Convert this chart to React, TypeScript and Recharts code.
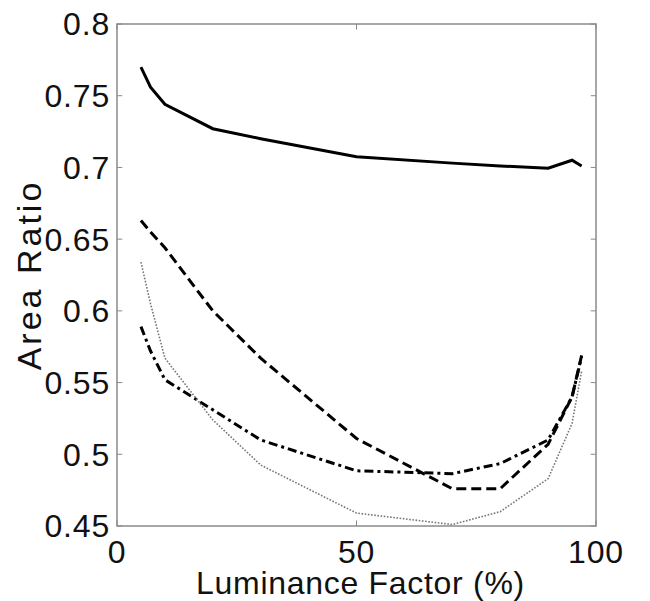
import React from 'react';
import { LineChart, Line, XAxis, YAxis, ReferenceArea, ReferenceLine } from 'recharts';

const luminance = [5, 7, 10, 20, 30, 50, 70, 80, 90, 95, 97];
const solidSeries = [0.77, 0.756, 0.744, 0.727, 0.72, 0.7075, 0.703, 0.701, 0.6995, 0.705, 0.701];
const dashedSeries = [0.663, 0.655, 0.644, 0.6, 0.567, 0.511, 0.476, 0.476, 0.507, 0.54, 0.569];
const dashDotSeries = [0.589, 0.572, 0.552, 0.531, 0.51, 0.4885, 0.4865, 0.4935, 0.51, 0.54, 0.568];
const dottedSeries = [0.634, 0.605, 0.567, 0.524, 0.4925, 0.459, 0.451, 0.46, 0.483, 0.5215, 0.558];

const xTicks = [0, 50, 100];
const yTicks = [0.45, 0.5, 0.55, 0.6, 0.65, 0.7, 0.75, 0.8];
const xDomain = [0, 100];
const yDomain = [0.45, 0.8];

const xLabel = 'Luminance Factor (%)';
const yLabel = 'Area Ratio';

const data = luminance.map((x, i) => ({
  x,
  solid: solidSeries[i],
  dashed: dashedSeries[i],
  dashDot: dashDotSeries[i],
  dotted: dottedSeries[i],
}));

const FONT = '"Liberation Sans", Arial, Helvetica, sans-serif';
const AXIS = '#8a8a8a';
const tickStyle = { fontSize: 32, fill: '#111', fontFamily: FONT, letterSpacing: 0.8 };
// inward tick length expressed in data units (fraction of each axis span)
const xTickLen = (xDomain[1] - xDomain[0]) * 0.011;
const yTickLen = (yDomain[1] - yDomain[0]) * 0.011;

export default function App() {
  return (
    <LineChart
      width={642}
      height={593}
      data={data}
      margin={{ top: 16, right: 54, bottom: 0, left: 0 }}
    >
      <XAxis
        dataKey="x"
        type="number"
        domain={xDomain}
        ticks={xTicks}
        height={75}
        axisLine={false}
        tickLine={false}
        tickMargin={8}
        tick={tickStyle}
        interval={0}
        label={{
          content: (props: any) => {
            const vb = props.viewBox;
            return (
              <text
                x={vb.x + vb.width / 2 + 4}
                y={vb.y + 68}
                textAnchor="middle"
                fontSize={32}
                letterSpacing={0.7}
                fontFamily={FONT}
                fill="#111"
              >
                {xLabel}
              </text>
            );
          },
        }}
      />
      <YAxis
        type="number"
        domain={yDomain}
        ticks={yTicks}
        width={109}
        axisLine={false}
        tickLine={false}
        tickMargin={1}
        tick={tickStyle}
        interval={0}
        allowDataOverflow
        label={{
          content: (props: any) => {
            const vb = props.viewBox;
            const cx = vb.x + 21;
            const cy = vb.y + vb.height / 2;
            return (
              <text
                x={cx}
                y={cy}
                textAnchor="middle"
                dominantBaseline="central"
                transform={`rotate(-90, ${cx}, ${cy})`}
                fontSize={34}
                letterSpacing={3}
                fontFamily={FONT}
                fill="#111"
              >
                {yLabel}
              </text>
            );
          },
        }}
      />
      <ReferenceArea
        x1={xDomain[0]}
        x2={xDomain[1]}
        y1={yDomain[0]}
        y2={yDomain[1]}
        fill="none"
        fillOpacity={0}
        stroke={AXIS}
        strokeWidth={1.5}
        ifOverflow="visible"
      />
      {yTicks.map((t) => (
        <ReferenceLine
          key={'yl' + t}
          segment={[{ x: xDomain[0], y: t }, { x: xDomain[0] + xTickLen, y: t }]}
          stroke={AXIS}
          strokeWidth={1}
          ifOverflow="visible"
        />
      ))}
      {yTicks.map((t) => (
        <ReferenceLine
          key={'yr' + t}
          segment={[{ x: xDomain[1] - xTickLen, y: t }, { x: xDomain[1], y: t }]}
          stroke={AXIS}
          strokeWidth={1}
          ifOverflow="visible"
        />
      ))}
      {xTicks.map((t) => (
        <ReferenceLine
          key={'xb' + t}
          segment={[{ x: t, y: yDomain[0] }, { x: t, y: yDomain[0] + yTickLen }]}
          stroke={AXIS}
          strokeWidth={1}
          ifOverflow="visible"
        />
      ))}
      {xTicks.map((t) => (
        <ReferenceLine
          key={'xt' + t}
          segment={[{ x: t, y: yDomain[1] - yTickLen }, { x: t, y: yDomain[1] }]}
          stroke={AXIS}
          strokeWidth={1}
          ifOverflow="visible"
        />
      ))}
      <Line
        type="linear"
        dataKey="solid"
        stroke="#000"
        strokeWidth={3}
        dot={false}
        isAnimationActive={false}
      />
      <Line
        type="linear"
        dataKey="dashed"
        stroke="#000"
        strokeWidth={3}
        strokeDasharray="10 5"
        dot={false}
        isAnimationActive={false}
      />
      <Line
        type="linear"
        dataKey="dashDot"
        stroke="#000"
        strokeWidth={3}
        strokeDasharray="9 4 3 4"
        dot={false}
        isAnimationActive={false}
      />
      <Line
        type="linear"
        dataKey="dotted"
        stroke="#777"
        strokeWidth={1.6}
        strokeDasharray="1.6 1.6"
        dot={false}
        isAnimationActive={false}
      />
    </LineChart>
  );
}
